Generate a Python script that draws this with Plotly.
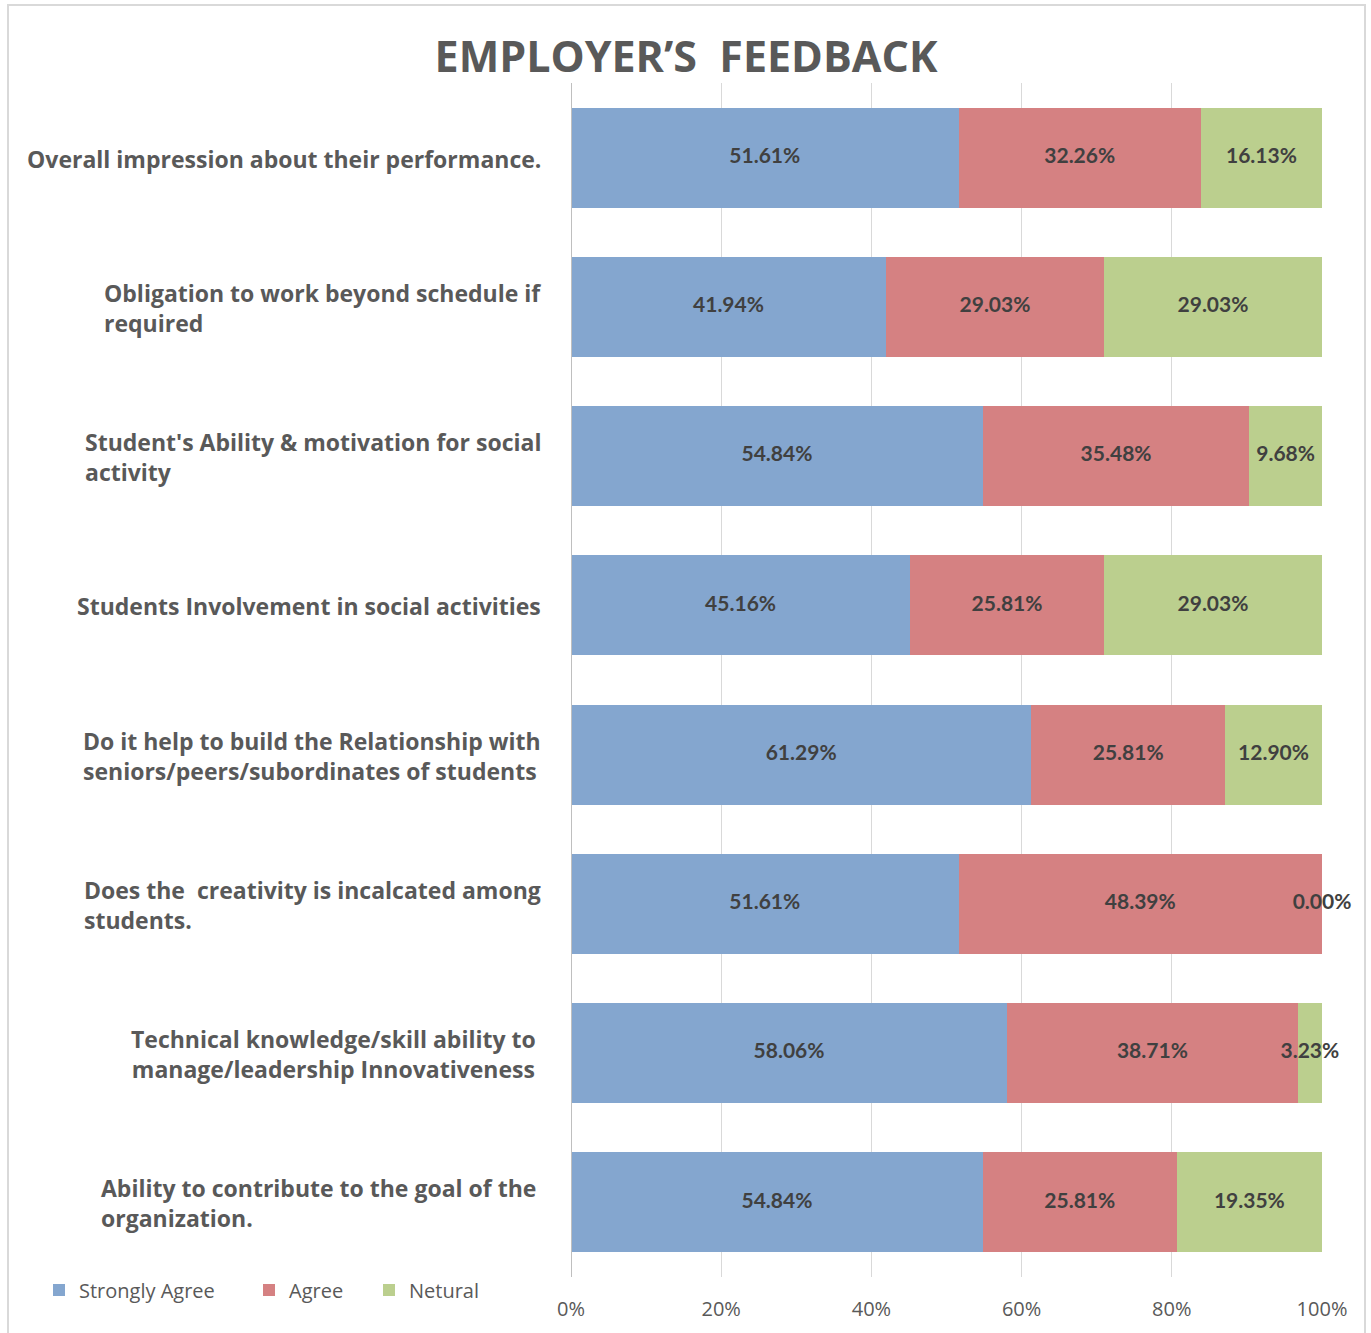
import plotly.graph_objects as go

categories = [
    "Overall impression about their performance.",
    "Obligation to work beyond schedule if<br>required",
    "Student's Ability & motivation for social<br>activity",
    "Students Involvement in social activities",
    "Do it help to build the Relationship with<br>seniors/peers/subordinates of students",
    "Does the  creativity is incalcated among<br>students.",
    "Technical knowledge/skill ability to<br>manage/leadership Innovativeness",
    "Ability to contribute to the goal of the<br>organization.",
]
label_align = ["left", "left", "left", "left", "left", "left", "center", "left"]
label_shift = [-28, -28, -28, -28, -28, -28, -33, -33]

strongly_agree = [51.61, 41.94, 54.84, 45.16, 61.29, 51.61, 58.06, 54.84]
agree = [32.26, 29.03, 35.48, 25.81, 25.81, 48.39, 38.71, 25.81]
netural = [16.13, 29.03, 9.68, 29.03, 12.90, 0.00, 3.23, 19.35]

series = [
    ("Strongly Agree", strongly_agree, "#84A6CF", "legend"),
    ("Agree", agree, "#D58182", "legend2"),
    ("Netural", netural, "#BBCF8E", "legend3"),
]

W, H = 1371, 1333
L, R, T, B = 571, 1322, 83, 1277
PW, PH = R - L, B - T

ycats = list(range(len(categories)))

fig = go.Figure()
base = [0.0] * len(categories)
label_x, label_y, label_t = [], [], []
for name, vals, color, lg in series:
    fig.add_trace(go.Bar(
        name=name, y=ycats, x=vals, orientation="h",
        marker=dict(color=color, line=dict(width=0)),
        hoverinfo="skip", legend=lg,
    ))
    for i, v in enumerate(vals):
        label_x.append(base[i] + v / 2)
        label_y.append(i)
        label_t.append(f"{v:.2f}%")
        base[i] += v

fig.add_trace(go.Scatter(
    x=label_x, y=label_y, text=label_t, mode="text",
    textfont=dict(family="Lato", size=21, color="#404040", weight="bold"),
    showlegend=False, cliponaxis=False, hoverinfo="skip",
))

for i, (cat, al, sh) in enumerate(zip(categories, label_align, label_shift)):
    fig.add_annotation(
        x=0, xref="paper", y=i, yref="y", text=cat, showarrow=False,
        xanchor="right", xshift=sh, yshift=-1, align=al,
        font=dict(family="Open Sans", size=23, color="#595959", weight="bold"),
    )

def legend_cfg(px_left):
    return dict(orientation="h", x=(px_left - L) / PW, xanchor="left",
                y=(B - 1290) / PH, yanchor="middle",
                font=dict(family="Open Sans", size=20, color="#595959"),
                itemclick=False, itemdoubleclick=False,
                bgcolor="rgba(0,0,0,0)")

fig.update_layout(
    width=W, height=H,
    margin=dict(l=L, r=W - R, t=T, b=H - B),
    barmode="stack", bargap=0.33,
    plot_bgcolor="white", paper_bgcolor="white",
    title=dict(text="EMPLOYER’S  FEEDBACK", x=686 / W, xanchor="center", xref="container",
               y=1 - 57 / H, yanchor="middle",
               font=dict(family="Open Sans", size=43, color="#595959", weight="bold")),
    legend=legend_cfg(39),
    legend2=legend_cfg(249),
    legend3=legend_cfg(369),
    showlegend=True,
)
fig.update_xaxes(
    range=[0, 100], tickvals=[0, 20, 40, 60, 80, 100],
    ticktext=["0%", "20%", "40%", "60%", "80%", "100%"],
    showgrid=True, gridcolor="#D9D9D9", gridwidth=1,
    zeroline=False, showline=False, ticks="", ticklabelstandoff=18,
    tickfont=dict(family="Open Sans", size=20, color="#595959"),
    fixedrange=True,
)
fig.update_yaxes(
    autorange="reversed", showticklabels=False, showgrid=False,
    zeroline=False, showline=False, fixedrange=True,
)
fig.add_shape(type="line", xref="x", yref="paper", x0=0, x1=0, y0=0, y1=1,
              line=dict(color="#BFBFBF", width=2), layer="above")
fig.add_shape(type="rect", xref="paper", yref="paper",
              x0=(8 - L) / PW, x1=(1365 - L) / PW,
              y0=(B - 1340) / PH, y1=(B - 5) / PH,
              line=dict(color="#D9D9D9", width=2), fillcolor="rgba(0,0,0,0)", layer="below")

fig.write_html("out.html", config={"displayModeBar": False},
               post_script="document.body.style.margin='0px';")
